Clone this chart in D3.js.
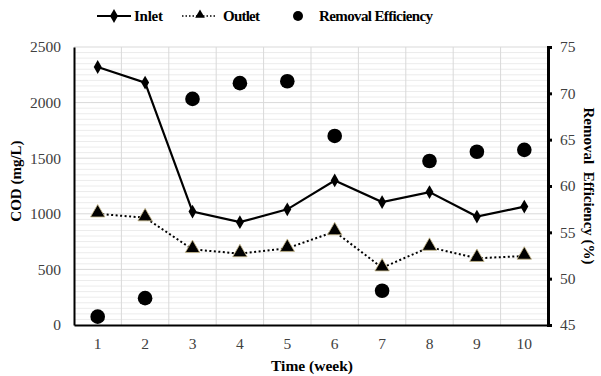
<!DOCTYPE html>
<html>
<head>
<meta charset="utf-8">
<script src="https://cdn.jsdelivr.net/npm/d3@7"></script>
<style>
  body { margin: 0; background: #fff; }
  text { font-family: "Liberation Serif", "Times New Roman", serif; }
</style>
</head>
<body>
<div id="chart"></div>
<script>
const weeks = ["1", "2", "3", "4", "5", "6", "7", "8", "9", "10"];
const inlet = [2320, 2180, 1020, 925, 1040, 1300, 1105, 1195, 975, 1065];
const outlet = [1000, 965, 680, 642, 690, 840, 515, 700, 600, 620];
const removal = [45.9, 47.9, 69.4, 71.1, 71.3, 65.4, 48.7, 62.7, 63.7, 63.9];
const codTicks = [0, 500, 1000, 1500, 2000, 2500];
const effTicks = [45, 50, 55, 60, 65, 70, 75];

const W = 601, H = 376;
const margin = { top: 47, right: 53, bottom: 51, left: 74 };
const width = W - margin.left - margin.right;
const height = H - margin.top - margin.bottom;

const svg = d3.select("#chart").append("svg")
  .attr("width", W).attr("height", H);
const g = svg.append("g").attr("transform", `translate(${margin.left},${margin.top})`);

const x = d3.scaleBand().domain(weeks).range([0, width]);
const yL = d3.scaleLinear().domain([0, 2500]).range([height, 0]);
const yR = d3.scaleLinear().domain([45, 75]).range([height, 0]);
const cx = d => x(d) + x.bandwidth() / 2;

// minor horizontal grid every 50
g.append("g").selectAll("line")
  .data(d3.range(50, 2501, 50))
  .join("line")
  .attr("x1", 0).attr("x2", width)
  .attr("y1", d => yL(d)).attr("y2", d => yL(d))
  .attr("stroke", d => d % 500 === 0 ? "#d9d9d9" : "#ececec")
  .attr("stroke-width", 1);

// vertical grid at category boundaries
g.append("g").selectAll("line")
  .data(weeks.slice(1))
  .join("line")
  .attr("x1", d => x(d)).attr("x2", d => x(d))
  .attr("y1", 0).attr("y2", height)
  .attr("stroke", "#d9d9d9");

// axes
const xAxis = g.append("g")
  .attr("transform", `translate(0,${height})`)
  .call(d3.axisBottom(x).tickSize(0).tickPadding(13));
xAxis.select(".domain").attr("stroke", "#000").attr("stroke-width", 2);

const leftAxis = g.append("g")
  .call(d3.axisLeft(yL).tickValues(codTicks).tickFormat(d3.format("d")).tickSize(0).tickPadding(13));
leftAxis.select(".domain").attr("stroke", "#000").attr("stroke-width", 2);

const rightAxis = g.append("g")
  .attr("transform", `translate(${width},0)`)
  .call(d3.axisRight(yR).tickValues(effTicks).tickSize(4).tickPadding(8));
rightAxis.select(".domain").attr("stroke", "#000").attr("stroke-width", 3);
rightAxis.selectAll(".tick line").attr("stroke", "#000").attr("stroke-width", 3);

svg.selectAll(".tick text")
  .attr("font-size", 15.5)
  .attr("fill", "#404040")
  .style("font-family", "Liberation Serif, serif");

// lines
const line = d3.line().x((d, i) => cx(weeks[i])).y(d => yL(d));
g.append("path").datum(inlet)
  .attr("d", line).attr("fill", "none")
  .attr("stroke", "#000").attr("stroke-width", 2.2);
g.append("path").datum(outlet)
  .attr("d", line).attr("fill", "none")
  .attr("stroke", "#000").attr("stroke-width", 2)
  .attr("stroke-dasharray", "2,2.5");

const diamond = d3.symbol().type(d3.symbolDiamond).size(55);
const tri = d3.symbol().type(d3.symbolTriangle).size(90);

g.selectAll(".dia").data(inlet).join("path")
  .attr("transform", (d, i) => `translate(${cx(weeks[i])},${yL(d)})`)
  .attr("d", diamond).attr("fill", "#000");
g.selectAll(".tri").data(outlet).join("path")
  .attr("transform", (d, i) => `translate(${cx(weeks[i])},${yL(d) - 1})`)
  .attr("d", tri).attr("fill", "#000")
  .attr("stroke", "#c8b98a").attr("stroke-width", 0.8);
g.selectAll(".eff").data(removal).join("circle")
  .attr("cx", (d, i) => cx(weeks[i])).attr("cy", d => yR(d))
  .attr("r", 7.3).attr("fill", "#000");

// axis titles
svg.append("text")
  .attr("x", margin.left + width / 2 + 1).attr("y", 371)
  .attr("text-anchor", "middle").attr("font-size", 15.5).attr("font-weight", "bold")
  .text("Time (week)");
svg.append("text")
  .attr("transform", `translate(21,${margin.top + height / 2 - 5}) rotate(-90)`)
  .attr("text-anchor", "middle").attr("font-size", 15).attr("font-weight", "bold")
  .text("COD (mg/L)");
svg.append("text")
  .attr("transform", `translate(584,${margin.top + height / 2}) rotate(90)`)
  .attr("text-anchor", "middle").attr("font-size", 15).attr("font-weight", "bold")
  .attr("xml:space", "preserve")
  .text("Removal  Efficiency (%)");

// legend
const leg = svg.append("g").attr("font-size", 15).attr("font-weight", "bold");
leg.append("line").attr("x1", 97).attr("x2", 131).attr("y1", 16).attr("y2", 16)
  .attr("stroke", "#000").attr("stroke-width", 2.2);
leg.append("path").attr("transform", "translate(114,16)").attr("d", diamond).attr("fill", "#000");
leg.append("text").attr("x", 134).attr("y", 21).attr("textLength", 29).text("Inlet");
leg.append("line").attr("x1", 182).attr("x2", 217).attr("y1", 16).attr("y2", 16)
  .attr("stroke", "#000").attr("stroke-width", 1.5).attr("stroke-dasharray", "1.5,2");
leg.append("path").attr("transform", "translate(200,15)").attr("d", d3.symbol().type(d3.symbolTriangle).size(40)).attr("fill", "#000");
leg.append("text").attr("x", 223).attr("y", 21).attr("textLength", 37).text("Outlet");
leg.append("circle").attr("cx", 298).attr("cy", 16).attr("r", 5).attr("fill", "#000");
leg.append("text").attr("x", 319).attr("y", 21).attr("textLength", 114).text("Removal Efficiency");
</script>
</body>
</html>
